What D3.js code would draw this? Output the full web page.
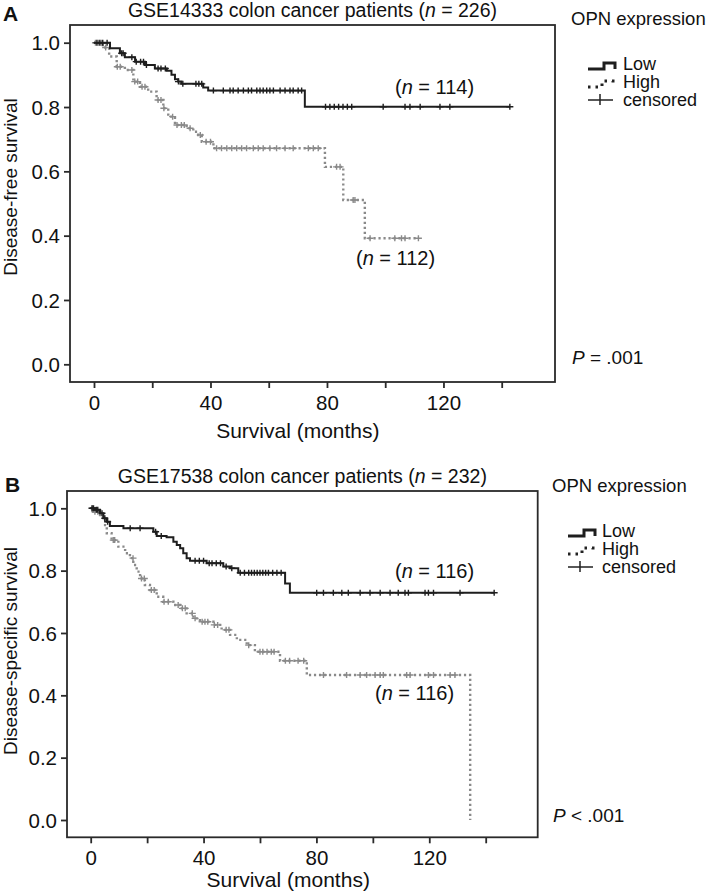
<!DOCTYPE html>
<html><head><meta charset="utf-8">
<script src="https://cdn.jsdelivr.net/npm/d3@7"></script>
<style>
body{margin:0;background:#fff}
text{font-family:"Liberation Sans",Arial,Helvetica,sans-serif;fill:#111}
</style>
</head><body>
<svg id="chart" width="709" height="892"></svg>
<script>
// ---------- shared ----------
const xTicks = [0, 40, 80, 120];
const xMinorTicks = [20, 60, 100, 140];
const yTicks = [0, 0.2, 0.4, 0.6, 0.8, 1.0];
const legendTitle = "OPN expression";
const legendLabels = ["Low", "High", "censored"];

// ---------- Panel A: GSE14333 ----------
const aTitle = "GSE14333 colon cancer patients (";
const aN = "226";
const aYLabel = "Disease-free survival";
const aLowTime = [0, 5.5, 8.9, 10.6, 14.1, 17.5, 20.9, 25, 26.6, 27.8, 28.9, 30, 37.5, 39.2, 72.4];
const aLowSurv = [1.0, 0.983, 0.967, 0.955, 0.941, 0.931, 0.920, 0.913, 0.900, 0.886, 0.879, 0.872, 0.861, 0.851, 0.801];
const aLowEnd = 142.8;
const aLowCens = [1, 2, 3, 4.5, 9.5, 10, 13, 14.5, 16, 17, 18, 22, 23, 24.5, 29, 30.5, 35, 36, 37,
  41, 44.4, 46.7, 47.8, 49.5, 51.3, 53, 54.1, 55.9, 57, 58.1, 59.3, 60.4, 61.6, 63.9, 65.6, 67.3, 68.4, 70.1, 71.3,
  79.5, 81, 82.5, 84, 85.5, 87, 88.5, 99.3, 106.8, 108.5, 112, 118.8, 122.2, 142.8];
const aHighTime = [0, 3, 5.2, 7.8, 10.6, 13.5, 15.8, 18.6, 21.5, 23.8, 25.5, 27.8, 31.8, 34.1, 35.8, 37, 41, 79.3, 85.6, 93];
const aHighSurv = [1.0, 0.985, 0.957, 0.925, 0.915, 0.879, 0.863, 0.848, 0.822, 0.796, 0.770, 0.744, 0.734, 0.723, 0.713, 0.692, 0.672, 0.614, 0.511, 0.392];
const aHighEnd = 111.4;
const aHighCens = [0.5, 1.5, 2.5, 4, 8, 9, 13, 14, 15, 16.5, 17.5, 22, 23, 24, 27, 28.5, 30, 31, 33, 36.5, 38.5, 40,
  42.1, 43.8, 45.6, 47.3, 49, 50.7, 52.4, 54.7, 56.4, 58.1, 60.4, 62.7, 65.6, 68.4, 73.6, 75.3, 77,
  83.3, 84.5, 89, 89.6, 94.8, 103.3, 105.6, 106.8, 111.4];
const aLowN = "114", aHighN = "112", aP = "P", aPText = " = .001";

// ---------- Panel B: GSE17538 ----------
const bTitle = "GSE17538 colon cancer patients (";
const bN = "232";
const bYLabel = "Disease-specific survival";
const bLowTime = [0, 1.5, 3.3, 4.5, 5.7, 6.8, 11.6, 22.2, 23.4, 26.9, 29.3, 30.5, 31.7, 32.8, 34, 35.2, 41.1, 47, 49.4, 52.3, 68.9, 70.6];
const bLowSurv = [1.0, 0.995, 0.984, 0.968, 0.957, 0.943, 0.936, 0.925, 0.911, 0.907, 0.893, 0.882, 0.872, 0.856, 0.840, 0.832, 0.824, 0.813, 0.808, 0.793, 0.759, 0.729];
const bLowEnd = 143;
const bLowCens = [0.5, 1, 2, 2.5, 4, 5, 6, 14, 17.5, 23, 25, 37, 38.5, 40, 42, 43, 44.5, 46, 48, 50,
  53, 54.5, 56, 57, 58, 59, 60, 61, 62, 63, 64.5, 66, 67.5,
  80.1, 82.5, 86, 89, 91.3, 95.5, 99, 102.6, 106.1, 109, 111.4, 112.6, 118.5, 119.7, 121.5, 130.9, 143];
const bHighTime = [0, 0.9, 3.3, 5.1, 5.7, 7.4, 9.8, 12.2, 13.9, 15.1, 16.3, 17.5, 19.2, 21, 23.4, 25.7, 29.3, 31.7, 34, 36.4, 38.7, 43.5, 46.4, 49.4, 51.8, 55.3, 58.2, 67.1, 76.6, 134.5];
const bHighSurv = [1.0, 0.989, 0.973, 0.946, 0.920, 0.898, 0.877, 0.856, 0.840, 0.818, 0.797, 0.775, 0.754, 0.738, 0.716, 0.700, 0.690, 0.679, 0.663, 0.647, 0.636, 0.626, 0.610, 0.594, 0.578, 0.561, 0.540, 0.511, 0.465, 0];
const bHighEnd = 134.5;
const bHighCens = [0.5, 1.5, 2.5, 8, 8.5, 15, 18, 19, 21.5, 22.5, 26, 27.5, 31, 32.5, 33.5, 36, 37, 39.5, 40.5, 41.5,
  43.8, 45, 48, 49, 56, 60, 61, 62.5, 64, 65, 69, 70.5, 73.5, 75.5,
  82.5, 90.7, 95.5, 97.8, 100.8, 102.6, 103.7, 112, 113.2, 119.7, 121.5, 127.4, 129.1];
const bLowN = "116", bHighN = "116", bP = "P", bPText = " < .001";

const svg = d3.select("#chart");
const LOW_COLOR = "#1e1e1e", HIGH_COLOR = "#8a8a8a", FRAME = "#2a2a2a";
const FONT = '"Liberation Sans",Arial,sans-serif';

function stepFn(times, surv) {
  return t => { let v = surv[0]; for (let i = 0; i < times.length; i++) if (times[i] <= t) v = surv[i]; return v; };
}

function drawPanel(p) {
  const g = svg.append("g");
  const x = d3.scaleLinear().domain([0, 140]).range([p.x0, p.x140]);
  const y = d3.scaleLinear().domain([0, 1]).range([p.y0, p.y1]);

  // frame
  g.append("rect").attr("x", p.left).attr("y", p.top)
    .attr("width", p.right - p.left).attr("height", p.bottom - p.top)
    .attr("fill", "none").attr("stroke", FRAME).attr("stroke-width", 1.8);

  // x axis
  const xa = g.append("g").attr("transform", `translate(0,${p.bottom})`)
    .call(d3.axisBottom(x).tickValues(xTicks.concat(xMinorTicks)).tickSize(6).tickSizeOuter(0)
      .tickFormat(d => xTicks.includes(d) ? d : ""));
  xa.select(".domain").remove();
  xa.selectAll(".tick line").attr("stroke", FRAME).attr("stroke-width", 1.8);
  xa.selectAll(".tick text").attr("y", 28).attr("dy", 0).attr("fill", "#111")
    .style("font-size", "20.5px").style("font-family", FONT);

  // y axis
  const ya = g.append("g").attr("transform", `translate(${p.left},0)`)
    .call(d3.axisLeft(y).tickValues(yTicks).tickSize(6).tickSizeOuter(0).tickFormat(d3.format(".1f")));
  ya.select(".domain").remove();
  ya.selectAll(".tick line").attr("stroke", FRAME).attr("stroke-width", 1.8);
  ya.selectAll(".tick text").attr("x", -10).attr("dy", "0.35em").attr("fill", "#111")
    .style("font-size", "20.5px").style("font-family", FONT);

  // axis titles
  g.append("text").attr("x", x(70)).attr("y", p.xTitleY).attr("text-anchor", "middle")
    .style("font-size", "21px").text("Survival (months)");
  g.append("text").attr("transform", `translate(${p.yTitleX},${p.yTitleCY}) rotate(-90)`)
    .attr("text-anchor", "middle").style("font-size", "19px").text(p.yLabel);

  // panel letter & title
  g.append("text").attr("x", p.letterX).attr("y", p.letterY).style("font-size", "21px")
    .style("font-weight", "bold").text(p.letter);
  const tt = g.append("text").attr("x", (p.left + p.right) / 2).attr("y", p.titleY)
    .attr("text-anchor", "middle").style("font-size", "19.5px");
  tt.append("tspan").text(p.title);
  tt.append("tspan").style("font-style", "italic").text("n");
  tt.append("tspan").text(" = " + p.n + ")");

  // curves
  const line = d3.line().x(d => x(d[0])).y(d => y(d[1])).curve(d3.curveStepAfter);
  function curve(times, surv, end, color, dash, width) {
    const pts = times.map((t, i) => [t, surv[i]]);
    if (end > times[times.length - 1]) pts.push([end, surv[surv.length - 1]]);
    g.append("path").attr("d", line(pts)).attr("fill", "none").attr("stroke", color)
      .attr("stroke-width", width).attr("stroke-dasharray", dash);
  }
  function censors(cens, times, surv, color) {
    const f = stepFn(times, surv);
    g.append("g").selectAll("path").data(cens).join("path")
      .attr("d", t => `M${x(t) - 3.5},${y(f(t))}h7M${x(t)},${y(f(t)) - 3}v6`)
      .attr("stroke", color).attr("stroke-width", 1.4).attr("fill", "none");
  }
  curve(p.highTime, p.highSurv, p.highEnd, HIGH_COLOR, "2.2,2.8", 2.4);
  censors(p.highCens, p.highTime, p.highSurv, HIGH_COLOR);
  curve(p.lowTime, p.lowSurv, p.lowEnd, LOW_COLOR, null, 2);
  censors(p.lowCens, p.lowTime, p.lowSurv, LOW_COLOR);

  // n labels
  function nLabel(xx, yy, n) {
    const t = g.append("text").attr("x", xx).attr("y", yy).style("font-size", "20px");
    t.append("tspan").text("(");
    t.append("tspan").style("font-style", "italic").text("n");
    t.append("tspan").text(" = " + n + ")");
  }
  nLabel(p.lowNX, p.lowNY, p.lowN);
  nLabel(p.highNX, p.highNY, p.highN);

  // P value
  const pt = g.append("text").attr("x", p.pX).attr("y", p.pY).style("font-size", "19px");
  pt.append("tspan").style("font-style", "italic").text(p.p);
  pt.append("tspan").text(p.pText);

  // legend
  const L = p.leg;
  g.append("text").attr("x", L.titleX).attr("y", L.titleY).style("font-size", "18.5px").text(legendTitle);
  const sx = L.symX, row = L.rowY;
  g.append("path").attr("d", `M${sx},${row[0] - 1}h16v-6h11v6`).attr("fill", "none")
    .attr("stroke", LOW_COLOR).attr("stroke-width", 3);
  g.append("path").attr("d", `M${sx},${row[1] - 1}h14v-6h11v6`).attr("fill", "none")
    .attr("stroke", "#222").attr("stroke-width", 3).attr("stroke-dasharray", "2.5,5");
  g.append("path").attr("d", `M${sx},${row[2] - 6}h25M${sx + 12},${row[2] - 12}v11`).attr("fill", "none")
    .attr("stroke", "#222").attr("stroke-width", 1.5);
  legendLabels.forEach((lab, i) => {
    g.append("text").attr("x", L.textX).attr("y", row[i]).style("font-size", "18px").text(lab);
  });
}

drawPanel({
  letter: "A", letterX: 3, letterY: 21, title: aTitle, n: aN, titleY: 17, yLabel: aYLabel,
  left: 70, right: 555, top: 25, bottom: 382,
  x0: 94, x140: 501.7, y0: 364.3, y1: 42.7,
  xTitleY: 438, yTitleX: 17, yTitleCY: 187,
  lowTime: aLowTime, lowSurv: aLowSurv, lowEnd: aLowEnd, lowCens: aLowCens,
  highTime: aHighTime, highSurv: aHighSurv, highEnd: aHighEnd, highCens: aHighCens,
  lowN: aLowN, highN: aHighN, lowNX: 395, lowNY: 94, highNX: 356, highNY: 265,
  p: aP, pText: aPText, pX: 572, pY: 364,
  leg: { titleX: 571, titleY: 25, symX: 588, textX: 623, rowY: [70, 88, 106] }
});

drawPanel({
  letter: "B", letterX: 5, letterY: 492, title: bTitle, n: bN, titleY: 483, yLabel: bYLabel,
  left: 67, right: 537.7, top: 491, bottom: 837.3,
  x0: 90.7, x140: 485.7, y0: 820, y1: 508.3,
  xTitleY: 887, yTitleX: 17, yTitleCY: 651,
  lowTime: bLowTime, lowSurv: bLowSurv, lowEnd: bLowEnd, lowCens: bLowCens,
  highTime: bHighTime, highSurv: bHighSurv, highEnd: bHighEnd, highCens: bHighCens,
  lowN: bLowN, highN: bHighN, lowNX: 395, lowNY: 578, highNX: 375, highNY: 700,
  p: bP, pText: bPText, pX: 553, pY: 822,
  leg: { titleX: 552, titleY: 492, symX: 568, textX: 602, rowY: [537, 555, 573] }
});
</script>
</body></html>
